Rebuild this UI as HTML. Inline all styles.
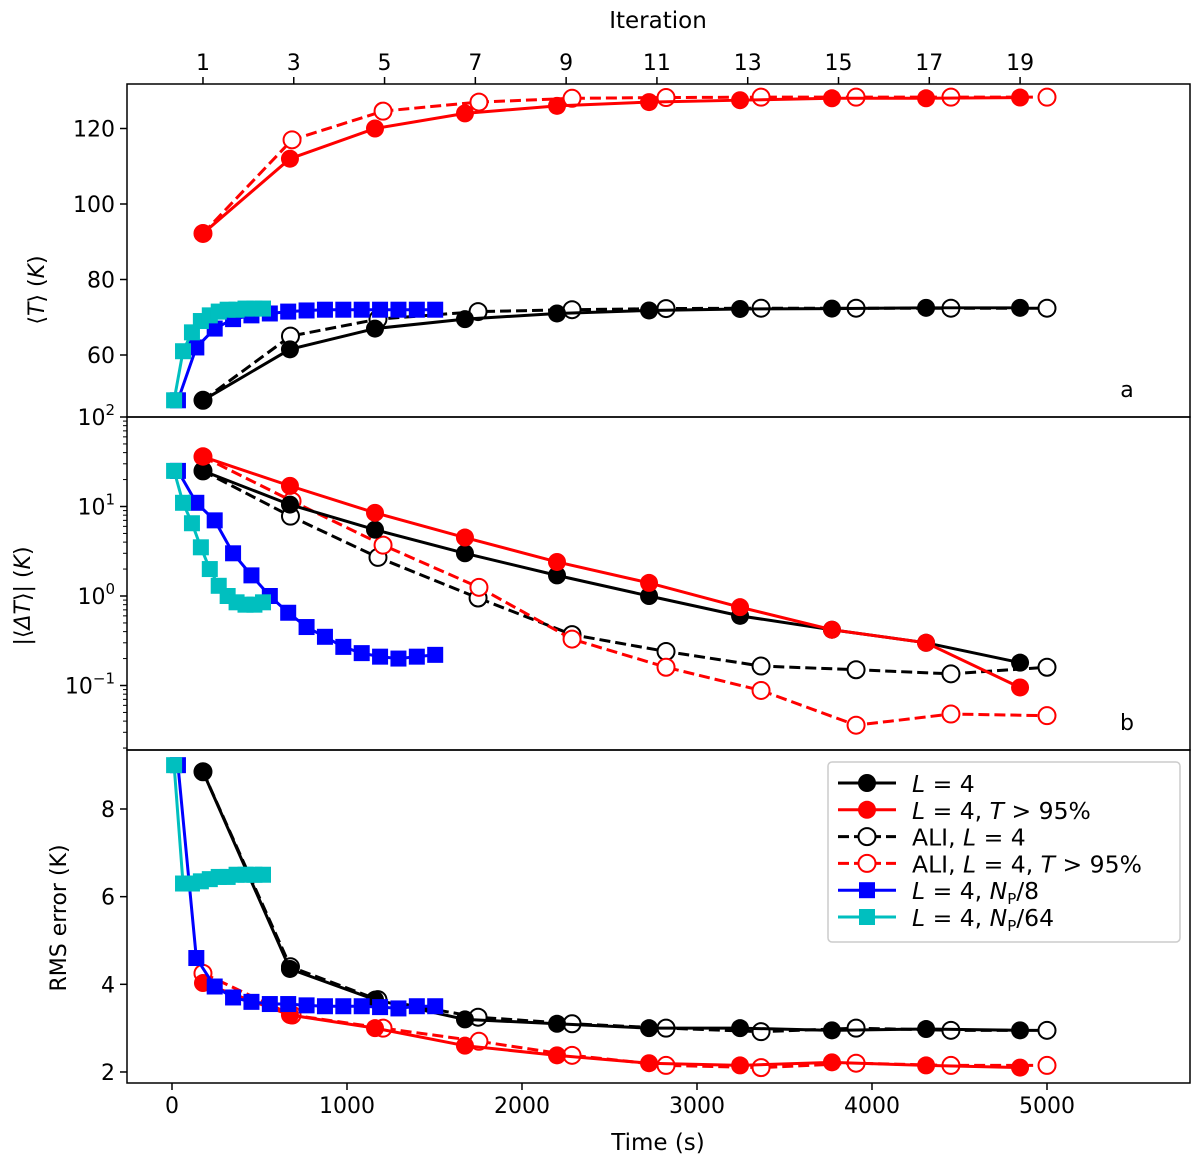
<!DOCTYPE html>
<html><head><meta charset="utf-8"><style>
body{margin:0;background:#fff}
svg{display:block;font-family:"DejaVu Sans","Liberation Sans",sans-serif}
</style></head><body>
<svg id="chart" width="1200" height="1169"></svg>
<script>
// ---- data ----
const tSolid=[177,674,1160,1674,2200,2726,3246,3771,4309,4846];
const tDash=[177,677,1177,1749,2286,2823,3366,3909,4451,5000];
const tRedDash=[177,686,1206,1754,2286,2823,3366,3909,4451,5000];
const tBlue=[34,139,244,349,454,559,664,769,874,979,1084,1189,1294,1399,1504];
const tCyan=[12,63,114,165,216,267,318,369,420,471,520];
// top panel <T>
const Tblack=[48,61.5,67,69.5,71,71.8,72.2,72.3,72.5,72.5];
const Tred=[92.2,112,120,124,126,127,127.5,128,128,128.2];
const TblackALI=[48,65,69.5,71.5,72,72.3,72.4,72.4,72.4,72.4];
const TredALI=[92.2,117,124.6,127,128,128.2,128.3,128.3,128.3,128.3];
const Tblue=[48,62,67,69.5,70.5,71,71.5,71.8,72,72,72,72,72,72,72];
const Tcyan=[48,61,66,69,70.5,71.5,72,72,72.3,72.3,72.3];
// middle panel |<dT>|
const Dblack=[25,10.5,5.5,3,1.7,1.0,0.6,0.42,0.3,0.18];
const Dred=[36,17,8.5,4.5,2.4,1.4,0.75,0.42,0.3,0.095];
const DblackALI=[25,7.8,2.7,0.95,0.37,0.24,0.165,0.15,0.135,0.16];
const DredALI=[36,11.5,3.7,1.25,0.33,0.16,0.088,0.036,0.048,0.046];
const Dblue=[25,11,7,3,1.7,1.0,0.65,0.45,0.35,0.27,0.23,0.21,0.2,0.21,0.22];
const Dcyan=[25,11,6.5,3.5,2,1.3,1,0.85,0.8,0.8,0.85];
// bottom panel RMS
const Rblack=[8.85,4.35,3.65,3.2,3.1,3.0,3.0,2.95,2.98,2.95];
const Rred=[4.03,3.3,3.0,2.6,2.38,2.2,2.15,2.22,2.15,2.1];
const RblackALI=[8.85,4.4,3.65,3.25,3.1,3.0,2.92,3.0,2.95,2.95];
const RredALI=[4.25,3.3,3.0,2.7,2.38,2.15,2.1,2.2,2.15,2.15];
const Rblue=[9.0,4.6,3.95,3.7,3.6,3.55,3.55,3.52,3.5,3.5,3.5,3.48,3.45,3.5,3.5];
const Rcyan=[9.0,6.3,6.3,6.35,6.4,6.45,6.45,6.5,6.5,6.5,6.5];
const xTicks=[0,1000,2000,3000,4000,5000];
const iterTicks=[1,3,5,7,9,11,13,15,17,19];

const NS="http://www.w3.org/2000/svg";
const svg=document.getElementById('chart');
const L=127,R=1190;
const X=t=>172+t*0.175;
const iterX=i=>X(177+(i-1)*259.4);
const P1={top:84,bot:417}, P2={top:417,bot:750}, P3={top:750,bot:1083};
const Y1=v=>355-(v-60)*3.775;
const Y2=v=>596-Math.log10(v)*89.5;
const Y3=v=>809-(v-8)*43.83;
function el(tag,attrs,parent){const e=document.createElementNS(NS,tag);for(const k in attrs)e.setAttribute(k,attrs[k]);(parent||svg).appendChild(e);return e;}
function txt(s,x,y,attrs,parent){const e=el('text',Object.assign({x:x,y:y,'font-size':22,fill:'#000'},attrs||{}),parent);e.innerHTML=s;return e;}

function series(ts,vs,Y,color,dash,marker,name,clip){
  const g=el('g',{'clip-path':'url(#'+clip+')'});
  
  
  const pts=ts.map((t,i)=>X(t)+','+Y(vs[i])).join(' ');
  const pl=el('polyline',{points:pts,fill:'none',stroke:color,'stroke-width':3,'stroke-dasharray':dash?'11,5':'none'},g);
  
  
  ts.forEach((t,i)=>{
    let m;
    if(marker==='o') m=el('circle',{cx:X(t),cy:Y(vs[i]),r:9,fill:color},g);
    else if(marker==='oo') m=el('circle',{cx:X(t),cy:Y(vs[i]),r:8.5,fill:'#fff',stroke:color,'stroke-width':2},g);
    else m=el('rect',{x:X(t)-8,y:Y(vs[i])-8,width:16,height:16,fill:color},g);
    
    
  });
}
const defs=el('defs',{});
[['c1',P1],['c2',P2],['c3',P3]].forEach(([id,p])=>{const c=el('clipPath',{id:id},defs);el('rect',{x:L,y:p.top,width:R-L,height:p.bot-p.top},c);});

function panel(p,Y,data,clip){
  series(tDash,data[2],Y,'#000',true,'oo','series-ali-l4',clip);
  series(tRedDash,data[3],Y,'#ff0000',true,'oo','series-ali-l4-t95',clip);
  series(tSolid,data[0],Y,'#000',false,'o','series-l4',clip);
  series(tSolid,data[1],Y,'#ff0000',false,'o','series-l4-t95',clip);
  series(tBlue,data[4],Y,'#0000ff',false,'s','series-np8',clip);
  series(tCyan,data[5],Y,'#00bfbf',false,'s','series-np64',clip);
}
panel(P1,Y1,[Tblack,Tred,TblackALI,TredALI,Tblue,Tcyan],'c1');
panel(P2,Y2,[Dblack,Dred,DblackALI,DredALI,Dblue,Dcyan],'c2');
panel(P3,Y3,[Rblack,Rred,RblackALI,RredALI,Rblue,Rcyan],'c3');

// frames
[P1,P2,P3].forEach((p,i)=>{const r=el('rect',{x:L,y:p.top,width:R-L,height:p.bot-p.top,fill:'none',stroke:'#000','stroke-width':1.5});
});

// y ticks
function yt(y,label,name){el('line',{x1:L-7,x2:L,y1:y,y2:y,stroke:'#000','stroke-width':1.5});const t=txt(label,L-12,y+8,{'text-anchor':'end'});}
[60,80,100,120].forEach(v=>yt(Y1(v),String(v),'y-tick-a'));
[[2,'10<tspan dy="-10" font-size="15">2</tspan>'],[1,'10<tspan dy="-10" font-size="15">1</tspan>'],[0,'10<tspan dy="-10" font-size="15">0</tspan>'],[-1,'10<tspan dy="-10" font-size="15">−1</tspan>']].forEach(([e,s])=>{
  const y=Y2(Math.pow(10,e));el('line',{x1:L-7,x2:L,y1:y,y2:y,stroke:'#000','stroke-width':1.5});
  const t=txt(s,L-12,y+8,{'text-anchor':'end'});
  for(let k=2;k<10;k++){const ym=Y2(k*Math.pow(10,e-1));if(ym>P2.top&&ym<P2.bot)el('line',{x1:L-4,x2:L,y1:ym,y2:ym,stroke:'#000','stroke-width':1});}
});
const ym=Y2(0.02);el('line',{x1:L-4,x2:L,y1:ym,y2:ym,stroke:'#000','stroke-width':1});
[2,4,6,8].forEach(v=>yt(Y3(v),String(v),'y-tick-c'));
// x ticks
xTicks.forEach(v=>{el('line',{x1:X(v),x2:X(v),y1:P3.bot,y2:P3.bot+7,stroke:'#000','stroke-width':1.5});const t=txt(String(v),X(v),P3.bot+30,{'text-anchor':'middle'});});
iterTicks.forEach(v=>{el('line',{x1:iterX(v),x2:iterX(v),y1:P1.top-7,y2:P1.top,stroke:'#000','stroke-width':1.5});const t=txt(String(v),iterX(v),P1.top-14,{'text-anchor':'middle'});});
// axis titles
let t;
t=txt('Time (s)',658,1150,{'text-anchor':'middle','font-size':23});
t=txt('Iteration',658,28,{'text-anchor':'middle','font-size':23});
t=txt('⟨<tspan font-style="italic">T</tspan>⟩ (<tspan font-style="italic">K</tspan>)',0,0,{'text-anchor':'middle',transform:'translate(44,290) rotate(-90)'});
t=txt('|⟨<tspan font-style="italic">ΔT</tspan>⟩| (<tspan font-style="italic">K</tspan>)',0,0,{'text-anchor':'middle',transform:'translate(30,596) rotate(-90)'});
t=txt('RMS error (K)',0,0,{'text-anchor':'middle',transform:'translate(66,918) rotate(-90)'});
t=txt('a',1127,397,{'text-anchor':'middle'});
t=txt('b',1127,730,{'text-anchor':'middle'});

// legend
const lg=el('g',{});


el('rect',{x:828,y:762,width:352,height:180,rx:4,fill:'#fff',stroke:'#ccc','stroke-width':1.5},lg);
const items=[['#000',false,'o','<tspan font-style="italic">L</tspan> = 4'],
['#ff0000',false,'o','<tspan font-style="italic">L</tspan> = 4,  <tspan font-style="italic">T</tspan> &gt; 95%'],
['#000',true,'oo','ALI,  <tspan font-style="italic">L</tspan> = 4'],
['#ff0000',true,'oo','ALI,  <tspan font-style="italic">L</tspan> = 4,  <tspan font-style="italic">T</tspan> &gt; 95%'],
['#0000ff',false,'s','<tspan font-style="italic">L</tspan> = 4,  <tspan font-style="italic">N</tspan><tspan font-size="15" dy="5">P</tspan><tspan dy="-5">/8</tspan>'],
['#00bfbf',false,'s','<tspan font-style="italic">L</tspan> = 4,  <tspan font-style="italic">N</tspan><tspan font-size="15" dy="5">P</tspan><tspan dy="-5">/64</tspan>']];
items.forEach((it,i)=>{
  const y=783+i*26.8;
  const g=el('g',{},lg);
  
  
  el('line',{x1:838,x2:896,y1:y,y2:y,stroke:it[0],'stroke-width':3,'stroke-dasharray':it[1]?'11,5':'none'},g);
  if(it[2]==='o')el('circle',{cx:867,cy:y,r:9,fill:it[0]},g);
  else if(it[2]==='oo')el('circle',{cx:867,cy:y,r:8.5,fill:'#fff',stroke:it[0],'stroke-width':2},g);
  else el('rect',{x:859,y:y-8,width:16,height:16,fill:it[0]},g);
  txt(it[3],912,y+9,{'font-size':23.5},g);
});
</script>
</body></html>
